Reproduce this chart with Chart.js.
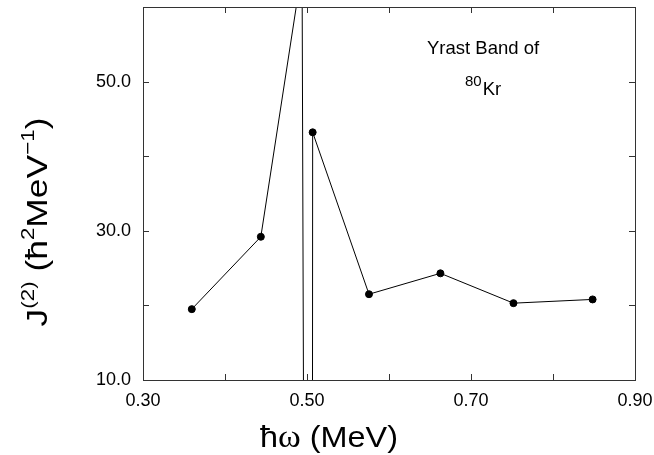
<!DOCTYPE html>
<html>
<head>
<meta charset="utf-8">
<script src="https://cdn.jsdelivr.net/npm/chart.js@4/dist/chart.umd.min.js"></script>
<style>
    html, body { margin: 0; padding: 0; background: #fff; }
    #wrap { width: 654px; height: 455px; }
</style>
</head>
<body>
<div id="wrap"><canvas id="chart"></canvas></div>
<script>
// hbar*omega (MeV) and J(2) (hbar^2 MeV^-1), yrast band of 80Kr
// the two points around 0.50 sit far off the plot (the backbend)
const omega = [0.3595, 0.4437, 0.494, 0.505, 0.5069, 0.5756, 0.6627, 0.7518, 0.8483]
const j2 = [19.5, 29.2, 65.1, -300, 43.2, 21.5, 24.3, 20.3, 20.8]

const xTicks = [0.30, 0.50, 0.70, 0.90]
const yTicks = [10, 30, 50]

const FONT = '"Liberation Sans", Arial, sans-serif'

// inward ticks on all four sides + closing box + the texts
const frame = {
    id: 'frame',
    afterDatasetsDraw(chart) {
        const { ctx, chartArea: a, scales } = chart
        const len = 6
        ctx.save()
        ctx.strokeStyle = '#333'
        ctx.lineWidth = 1
        ctx.strokeRect(a.left + 0.5, a.top + 0.5, a.right - a.left, a.bottom - a.top)
        ctx.beginPath()
        scales.x.ticks.forEach(t => {
            const px = Math.round(scales.x.getPixelForValue(t.value)) + 0.5
            ctx.moveTo(px, a.bottom); ctx.lineTo(px, a.bottom - len)
            ctx.moveTo(px, a.top); ctx.lineTo(px, a.top + len)
        })
        scales.y.ticks.forEach(t => {
            const py = Math.round(scales.y.getPixelForValue(t.value)) + 0.5
            ctx.moveTo(a.left, py); ctx.lineTo(a.left + len, py)
            ctx.moveTo(a.right, py); ctx.lineTo(a.right - len, py)
        })
        ctx.stroke()
        ctx.restore()
    },
    afterDraw(chart) {
        const { ctx } = chart
        ctx.save()
        ctx.fillStyle = '#000'
        ctx.textBaseline = 'alphabetic'

        // annotation
        ctx.font = '18.5px ' + FONT
        ctx.fillText('Yrast Band of', 427, 54)
        ctx.font = '15px ' + FONT
        ctx.fillText('80', 465, 86)
        let w = ctx.measureText('80').width
        ctx.font = '18.5px ' + FONT
        ctx.fillText('Kr', 465 + w + 1, 95)

        // x title, a bit wider like the original lettering
        ctx.save()
        ctx.translate(329, 447)
        ctx.scale(1.08, 1)
        drawRun(ctx, [
            { t: 'ħ', f: '30px ' + FONT },
            { t: 'ω', f: '32px "Liberation Serif", serif' },
            { t: ' (MeV)', f: '30px ' + FONT }
        ], 0, 0)
        ctx.restore()

        // y title, rotated and stretched along its length
        ctx.translate(47, 222)
        ctx.rotate(-Math.PI / 2)
        ctx.scale(1.18, 1)
        drawRun(ctx, [
            { t: 'J', f: '30px ' + FONT },
            { t: '(2)', f: '19px ' + FONT, up: 13 },
            { t: ' (ħ', f: '30px ' + FONT },
            { t: '2', f: '19px ' + FONT, up: 13 },
            { t: 'MeV', f: '30px ' + FONT },
            { t: '−1', f: '19px ' + FONT, up: 13 },
            { t: ')', f: '30px ' + FONT }
        ], 0, 0)
        ctx.restore()
    }
}

// draws pieces of text centred on cx, baseline at by
function drawRun(ctx, parts, cx, by) {
    let total = 0
    parts.forEach(p => { ctx.font = p.f; p.w = ctx.measureText(p.t).width; total += p.w })
    let x = cx - total / 2
    parts.forEach(p => {
        ctx.font = p.f
        ctx.fillText(p.t, x, by - (p.up || 0))
        x += p.w
    })
}

// kill the label-overflow padding chart.js adds, so the box sits where it should
function noPad(scale) {
    scale.paddingTop = 0
    scale.paddingBottom = 0
    scale.paddingLeft = 0
    scale.paddingRight = 0
}

const points = omega.map((x, i) => ({ x, y: j2[i] }))

new Chart(document.getElementById('chart'), {
    type: 'scatter',
    data: {
        datasets: [{
            data: points,
            showLine: true,
            borderColor: '#000',
            borderWidth: 1,
            backgroundColor: '#000',
            pointRadius: 3.5,
            pointHoverRadius: 3.5,
            tension: 0
        }]
    },
    options: {
        animation: false,
        responsive: true,
        maintainAspectRatio: false,
        events: [],
        layout: { padding: { top: 7, right: 19, left: 0, bottom: 0 } },
        plugins: { legend: { display: false }, tooltip: { enabled: false } },
        scales: {
            x: {
                type: 'linear',
                min: 0.30,
                max: 0.90,
                afterBuildTicks(scale) {
                    scale.ticks = [0.3, 0.4, 0.5, 0.6, 0.7, 0.8, 0.9].map(v => ({ value: v }))
                },
                afterFit(scale) { scale.height = 75; noPad(scale) },
                grid: { display: false, drawTicks: false },
                border: { display: false },
                ticks: {
                    padding: 10,
                    color: '#000',
                    font: { family: FONT, size: 18 },
                    maxRotation: 0,
                    autoSkip: false,
                    callback: v => xTicks.some(t => Math.abs(t - v) < 1e-6) ? v.toFixed(2) : ''
                }
            },
            y: {
                type: 'linear',
                min: 10,
                max: 60,
                afterBuildTicks(scale) {
                    scale.ticks = [10, 20, 30, 40, 50, 60].map(v => ({ value: v }))
                },
                afterFit(scale) { scale.width = 143; noPad(scale) },
                grid: { display: false, drawTicks: false },
                border: { display: false },
                ticks: {
                    padding: 12,
                    color: '#000',
                    font: { family: FONT, size: 18 },
                    autoSkip: false,
                    callback: v => yTicks.includes(v) ? v.toFixed(1) : ''
                }
            }
        }
    },
    plugins: [frame]
})
</script>
</body>
</html>
